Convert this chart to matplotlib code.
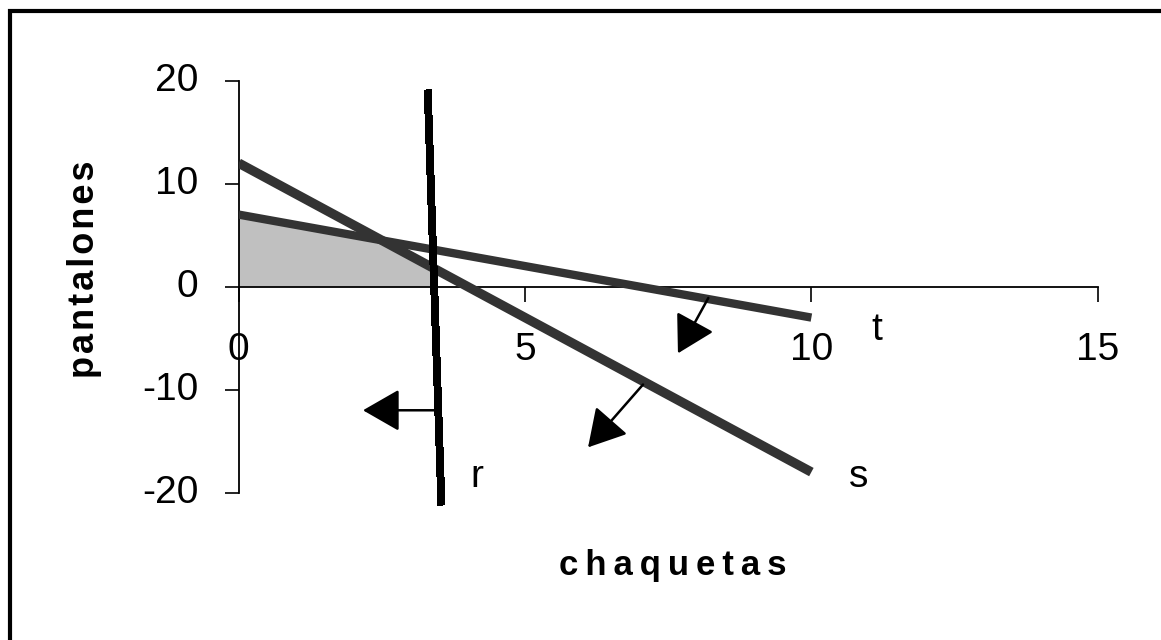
import numpy as np
import matplotlib
matplotlib.use("Agg")
import matplotlib.pyplot as plt
from matplotlib.patches import Rectangle

plt.rcParams['font.family'] = ['Liberation Sans', 'DejaVu Sans']
plt.rcParams['axes.unicode_minus'] = False

# rectas de las restricciones (extremos)
s_x = [0, 10]
s_y = [12, -18]
t_x = [0, 10]
t_y = [7, -3]
r_x = [3.3, 3.54]
r_y = [19.1, -21.2]

# flechas: (inicio, punta)
arrow_r = [(3.43, -12.0), (2.17, -12.0)]
arrow_s = [(7.06, -9.5), (6.1, -15.6)]
arrow_t = [(8.2, -1.1), (7.67, -6.47)]

# etiquetas de las rectas
line_names = ['t', 's', 'r']
name_x = [11.15, 10.82, 4.16]
name_y = [-5.2, -19.45, -19.45]

x_ticks = [0, 5, 10, 15]
y_ticks = [20, 10, 0, -10, -20]


def intersect(ax_, ay_, bx_, by_):
    # interseccion de dos rectas dadas por dos puntos cada una
    p1, p2 = np.array([ax_[0], ay_[0]]), np.array([ax_[1], ay_[1]])
    q1, q2 = np.array([bx_[0], by_[0]]), np.array([bx_[1], by_[1]])
    d1, d2 = p2 - p1, q2 - q1
    m = np.array([d1, -d2]).T
    k = np.linalg.solve(m, q1 - p1)
    return p1 + k[0] * d1


fig = plt.figure(figsize=(11.61, 6.4), dpi=100)
ax = fig.add_axes([0.2056, 0.2302, 0.7399, 0.6437])
ax.set_xlim(0, 15)
ax.set_ylim(-20, 20)

# region factible sombreada
p_st = intersect(s_x, s_y, t_x, t_y)
p_sr = intersect(s_x, s_y, r_x, r_y)
p_r0 = intersect(r_x, r_y, [0, 15], [0, 0])
poly_x = [0, t_x[0], p_st[0], p_sr[0], p_r0[0]]
poly_y = [0, t_y[0], p_st[1], p_sr[1], 0]
ax.fill(poly_x, poly_y, color='#c0c0c0', lw=0, zorder=1)

ax.plot(t_x, t_y, color='#333333', lw=6, solid_capstyle='butt', zorder=3)
ax.plot(s_x, s_y, color='#333333', lw=6.8, solid_capstyle='butt', zorder=3)
ax.plot(r_x, r_y, color='black', lw=5, solid_capstyle='butt', zorder=4,
        clip_on=False, antialiased=False)

for start, tip in [arrow_r, arrow_s, arrow_t]:
    ax.annotate('', xy=tip, xytext=start,
                arrowprops=dict(arrowstyle='-|>,head_length=1.15,head_width=0.66',
                                mutation_scale=20, color='black', lw=1.8,
                                shrinkA=0, shrinkB=0),
                zorder=5)

for name, x, y in zip(line_names, name_x, name_y):
    ax.text(x, y, name, fontsize=28, ha='center', va='baseline')

# ejes
for side in ['top', 'right']:
    ax.spines[side].set_visible(False)
ax.spines['bottom'].set_position(('data', 0))
ax.spines['left'].set_position(('data', 0))
for side in ['bottom', 'left']:
    ax.spines[side].set_linewidth(1.3)
    ax.spines[side].set_zorder(2)

ax.set_xticks(x_ticks)
ax.set_xticklabels([str(v) for v in x_ticks])
ax.set_yticks(y_ticks)
ax.set_yticklabels([str(v) for v in y_ticks])
ax.tick_params(axis='x', direction='out', length=10.8, width=1.2, pad=22, labelsize=28)
ax.tick_params(axis='y', direction='out', length=10, width=1.2, pad=19, labelsize=28)
for lab in ax.get_yticklabels():
    lab.set_verticalalignment('center')

fig.text(0.5793, 0.1016, '\u2009'.join('chaquetas'), fontsize=25, fontweight='bold',
         ha='center', va='baseline')
fig.text(0.0724, 0.5797, '\u200a'.join('pantalones'), fontsize=26, fontweight='bold',
         rotation=90, ha='center', va='center')

# marco del grafico
fig.add_artist(Rectangle((10 / 1161, -0.05), (1162.5 - 10) / 1161, 1.05 - 10.5 / 640,
                         transform=fig.transFigure, fill=False, lw=3, edgecolor='black'))

fig.savefig('out.png', dpi=100, facecolor='white')
